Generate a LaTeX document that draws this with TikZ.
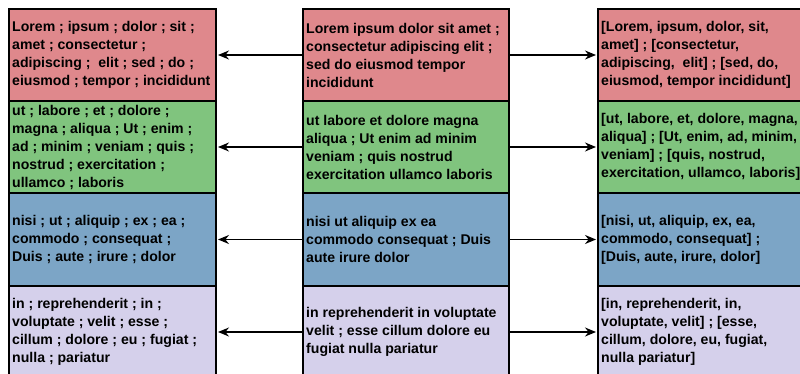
\documentclass[tikz,border=0pt]{standalone}
\usepackage{fontspec}
\setmainfont{Liberation Sans}
\usetikzlibrary{arrows.meta}
\definecolor{redbox}{RGB}{223,136,140}
\definecolor{greenbox}{RGB}{128,196,126}
\definecolor{bluebox}{RGB}{124,165,198}
\definecolor{lavbox}{RGB}{213,208,235}
\tikzset{
  cell/.style={draw=black, line width=2pt, anchor=north west, inner sep=0pt,
    minimum width=207pt, minimum height=92pt},
  txt/.style={anchor=west, align=left, inner sep=0pt, xshift=4pt,
    font=\fontsize{14.1pt}{18pt}\selectfont\bfseries\frenchspacing},
  conn/.style={line width=1.4pt, -{Stealth[length=11pt,width=9pt]}, shorten >=1pt}
}
\begin{document}
\begin{tikzpicture}[x=1pt,y=-1pt]
\clip (0,0) rectangle (800,374);
\useasboundingbox (0,0) rectangle (800,374);
% left column
\node[cell, fill=redbox] (l1) at (8,8) {};
\node[cell, fill=greenbox] (l2) at (8,100) {};
\node[cell, fill=bluebox, minimum height=93pt] (l3) at (8,192) {};
\node[cell, fill=lavbox] (l4) at (8,285) {};
% middle column
\node[cell, fill=redbox, minimum width=206pt] (m1) at (302,8) {};
\node[cell, fill=greenbox, minimum width=206pt] (m2) at (302,100) {};
\node[cell, fill=bluebox, minimum width=206pt, minimum height=93pt] (m3) at (302,192) {};
\node[cell, fill=lavbox, minimum width=206pt] (m4) at (302,285) {};
% right column
\node[cell, fill=redbox] (r1) at (597,8) {};
\node[cell, fill=greenbox] (r2) at (597,100) {};
\node[cell, fill=bluebox, minimum height=93pt] (r3) at (597,192) {};
\node[cell, fill=lavbox] (r4) at (597,285) {};
% texts
\node[txt] (l1t) at (l1.west) {Lorem ; ipsum ; dolor ; sit ;\\ amet ; consectetur ;\\ adipiscing ;\ \ elit ; sed ; do ;\\ eiusmod ; tempor ; incididunt};
\node[txt] (l2t) at (l2.west) {ut ; labore ; et ; dolore ;\\ magna ; aliqua ; Ut ; enim ;\\ ad ; minim ; veniam ; quis ;\\ nostrud ; exercitation ;\\ ullamco ; laboris};
\node[txt] (l3t) at (l3.west) {nisi ; ut ; aliquip ; ex ; ea ;\\ commodo ; consequat ;\\ Duis ; aute ; irure ; dolor};
\node[txt] (l4t) at (l4.west) {in ; reprehenderit ; in ;\\ voluptate ; velit ; esse ;\\ cillum ; dolore ; eu ; fugiat ;\\ nulla ; pariatur};
\node[txt] (m1t) at (m1.west) {Lorem ipsum dolor sit amet ;\\ consectetur adipiscing elit ;\\ sed do eiusmod tempor\\ incididunt};
\node[txt] (m2t) at (m2.west) {ut labore et dolore magna\\ aliqua ; Ut enim ad minim\\ veniam ; quis nostrud\\ exercitation ullamco laboris};
\node[txt] (m3t) at (m3.west) {nisi ut aliquip ex ea\\ commodo consequat ; Duis\\ aute irure dolor};
\node[txt] (m4t) at (m4.west) {in reprehenderit in voluptate\\ velit ; esse cillum dolore eu\\ fugiat nulla pariatur};
\node[txt] (r1t) at (r1.west) {[Lorem, ipsum, dolor, sit,\\ amet] ; [consectetur,\\ adipiscing,\ \ elit] ; [sed, do,\\ eiusmod, tempor incididunt]};
\node[txt] (r2t) at (r2.west) {[ut, labore, et, dolore, magna,\\ aliqua] ; [Ut, enim, ad, minim,\\ veniam] ; [quis, nostrud,\\ exercitation, ullamco, laboris]};
\node[txt] (r3t) at (r3.west) {[nisi, ut, aliquip, ex, ea,\\ commodo, consequat] ;\\{}[Duis, aute, irure, dolor]};
\node[txt] (r4t) at (r4.west) {[in, reprehenderit, in,\\ voluptate, velit] ; [esse,\\ cillum, dolore, eu, fugiat,\\ nulla pariatur]};
% connectors
\foreach \i in {1,2,3,4} {
  \draw[conn] (m\i.west) -- (l\i.east);
  \draw[conn] (m\i.east) -- (r\i.west);
}
\end{tikzpicture}
\end{document}
